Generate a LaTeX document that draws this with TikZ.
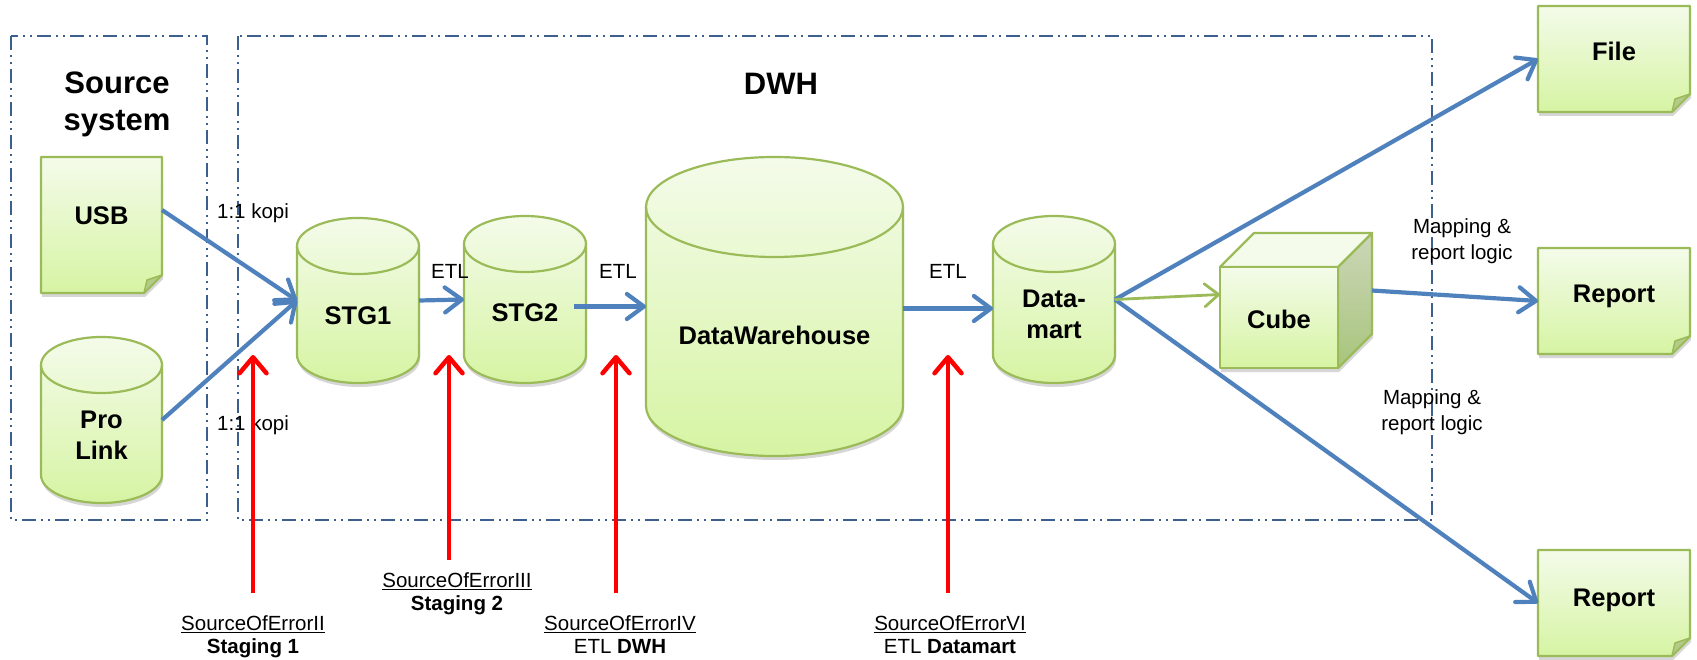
\documentclass[tikz,border=0pt]{standalone}
\usepackage{fontspec}
\setmainfont{Liberation Sans}
\usetikzlibrary{arrows.meta,calc,shadows}

\definecolor{groupline}{HTML}{3D5F8E}
\definecolor{edgegreen}{HTML}{9BBB59}
\definecolor{paletop}{HTML}{F4FBEA}
\definecolor{palebottom}{HTML}{D6F4A3}
\definecolor{foldgreen}{HTML}{B3CB86}
\definecolor{sidetop}{HTML}{CCD6B8}
\definecolor{sidebottom}{HTML}{A8C57C}
\definecolor{flowblue}{HTML}{4F81BD}
\definecolor{alertred}{HTML}{FF0000}

\tikzset{
  groupbox/.style={draw=groupline, line width=2.2pt,
    dash pattern=on 14pt off 5pt on 2pt off 5pt on 2pt off 5pt},
  softshadow/.style={drop shadow={shadow xshift=1pt, shadow yshift=-4pt,
    opacity=0.16, fill=black}},
  greenbody/.style={draw=edgegreen, line width=2.2pt, line join=round,
    top color=paletop, bottom color=palebottom, softshadow},
  greenedge/.style={draw=edgegreen, line width=2.2pt},
  foldpart/.style={fill=foldgreen, draw=edgegreen, line width=1.5pt, line join=round},
  holder/.style={inner sep=0pt, outer sep=0pt, draw=none, fill=none},
  bigtxt/.style={font=\fontsize{25.5}{31}\selectfont\bfseries, align=center, inner sep=0pt},
  titletxt/.style={font=\fontsize{31}{37}\selectfont\bfseries, align=center, inner sep=0pt},
  smalltxt/.style={font=\fontsize{20.5}{26}\selectfont, align=center, inner sep=0pt},
  errtxt/.style={font=\fontsize{20.5}{23}\selectfont, align=center, inner sep=0pt},
  flow/.style={draw=flowblue, line width=4.2pt,
    -{Straight Barb[length=17pt,width=25pt,round]}},
  cubeflow/.style={draw=edgegreen, line width=2.8pt,
    -{Straight Barb[length=14pt,width=23pt,round]}},
  alert/.style={draw=alertred, line width=4.5pt,
    -{Straight Barb[length=16pt,width=27pt,round]}},
}

% database cylinder: name, centre x, top y, bottom y, half width, cap half height
\newcommand\dbcyl[6]{%
  \path[greenbody] (#2-#5,#3+#6)
    arc[start angle=180,end angle=0,x radius=#5pt,y radius=#6pt]
    -- (#2+#5,#4-#6)
    arc[start angle=0,end angle=-180,x radius=#5pt,y radius=#6pt] -- cycle;
  \draw[greenedge] (#2-#5,#3+#6)
    arc[start angle=180,end angle=360,x radius=#5pt,y radius=#6pt];
  \node[holder, minimum width=2*#5pt, minimum height=(#4-#3)*1pt]
    (#1) at (#2,{(#3+#4)/2}) {};
}

% sheet with a turned-up corner: name, x1, y1, x2, y2, corner size
\newcommand\notesheet[6]{%
  \path[greenbody] (#2,#3) -- (#4,#3) -- (#4,#5-#6) -- (#4-#6,#5) -- (#2,#5) -- cycle;
  \path[foldpart] (#4,#5-#6) -- (#4-#6,#5) -- (#4-#6+3,#5-#6+5) -- cycle;
  \node[holder, minimum width=(#4-#2)*1pt, minimum height=(#5-#3)*1pt]
    (#1) at ({(#2+#4)/2},{(#3+#5)/2}) {};
}

\begin{document}
\begin{tikzpicture}[x=1pt,y=-1pt]
\useasboundingbox (0,0) rectangle (1697,660);

% group frames
\draw[groupbox] (11,36) rectangle (207,520);
\draw[groupbox] (238,36) rectangle (1432,520);
\node[titletxt] (srctitle) at (117,104.5) {Source\\system};
\node[titletxt, anchor=base] (dwhtitle) at (781,95) {DWH};

% sources
\notesheet{usb}{41}{157}{162}{293}{18}
\node[bigtxt, anchor=base] (usbt) at (101.5,225) {USB};
\dbcyl{prolink}{101.5}{337}{503}{60.5}{28}
\node[bigtxt] (prolinkt) at (101.5,435) {Pro\\Link};

% staging and warehouse
\dbcyl{stg1}{358}{218}{383}{61}{28}
\node[bigtxt, anchor=base] (stg1t) at (358,324) {STG1};
\dbcyl{stg2}{525}{216}{383}{61}{28}
\node[bigtxt, anchor=base] (stg2t) at (525,322) {STG2};
\dbcyl{dwh}{774.5}{157}{456}{128.5}{50}
\node[bigtxt, anchor=base] (dwht) at (774.5,344) {DataWarehouse};
\dbcyl{dmart}{1054}{216}{383}{61}{28}
\node[bigtxt] (dmartt) at (1054,314) {Data-\\mart};

% cube
\path[fill=white, softshadow] (1220,267) -- (1254,233) -- (1372,233) -- (1372,334)
  -- (1338,368) -- (1220,368) -- cycle;
\path[draw=edgegreen, line width=2.2pt, line join=round, top color=sidetop, bottom color=sidebottom]
  (1338,267) -- (1372,233) -- (1372,334) -- (1338,368) -- cycle;
\path[draw=edgegreen, line width=2.2pt, line join=round, fill=paletop]
  (1220,267) -- (1254,233) -- (1372,233) -- (1338,267) -- cycle;
\path[draw=edgegreen, line width=2.2pt, line join=round, top color=paletop, bottom color=palebottom]
  (1220,267) rectangle (1338,368);
\node[holder, minimum width=118pt, minimum height=101pt] (cube) at (1279,317.5) {};
\node[bigtxt, anchor=base] (cubet) at (1279,328) {Cube};

% outputs
\notesheet{file}{1538}{6}{1690}{112}{18}
\node[bigtxt, anchor=base] (filet) at (1614,61) {File};
\notesheet{rep1}{1538}{248}{1690}{354}{18}
\node[bigtxt, anchor=base] (rep1t) at (1614,302) {Report};
\notesheet{rep2}{1538}{550}{1690}{656}{18}
\node[bigtxt, anchor=base] (rep2t) at (1614,606) {Report};

% flow labels
\node[smalltxt, anchor=base] (kopi1) at (253,219) {1:1 kopi};
\node[smalltxt, anchor=base] (kopi2) at (253,430) {1:1 kopi};
\node[smalltxt, anchor=base] (etl1) at (450,279) {ETL};
\node[smalltxt, anchor=base] (etl2) at (618,279) {ETL};
\node[smalltxt, anchor=base] (etl3) at (948,279) {ETL};
\node[smalltxt] (map1) at (1462,241.7) {Mapping \&\\report logic};
\node[smalltxt] (map2) at (1432,411.7) {Mapping \&\\report logic};

% data flow
\draw[flow] ([yshift=15pt]usb.east) -- (stg1.west);
\draw[flow] (prolink.east) -- (stg1.west);
\draw[flow] (stg1.east) -- (stg2.west);
\draw[flow] ($(stg2.east |- dwh.west)+(-12,0)$) -- (dwh.west);
\draw[flow] ($(dwh.east)+(0,2)$) -- ($(dmart.west |- dwh.east)+(0,2)$);
\draw[flow] (dmart.east) -- (file.west);
\draw[flow] (dmart.east) -- (rep2.west);
\draw[cubeflow] (dmart.east) -- ($(cube.west)+(0,-23)$);
\draw[flow] ($(cube.east)+(34,-27)$) -- (rep1.west);

% error sources
\node[errtxt] (err2) at (253,637) {\underline{SourceOfErrorII}\\\textbf{Staging 1}};
\node[errtxt] (err3) at (457,594) {\underline{SourceOfErrorIII}\\\textbf{Staging 2}};
\node[errtxt] (err4) at (620,635) {\underline{SourceOfErrorIV}\\ETL \textbf{DWH}};
\node[errtxt] (err6) at (950,635) {\underline{SourceOfErrorVI}\\ETL \textbf{Datamart}};
\coordinate (e2tip) at (253,355);
\coordinate (e3tip) at (449,355);
\coordinate (e4tip) at (616,355);
\coordinate (e6tip) at (948,355);
\draw[alert] ($(err2.north)+(0,-23)$) -- (e2tip);
\draw[alert] (e3tip |- 0,560) -- (e3tip);
\draw[alert] (e4tip |- 0,593) -- (e4tip);
\draw[alert] (e6tip |- 0,593) -- (e6tip);
\end{tikzpicture}
\end{document}
